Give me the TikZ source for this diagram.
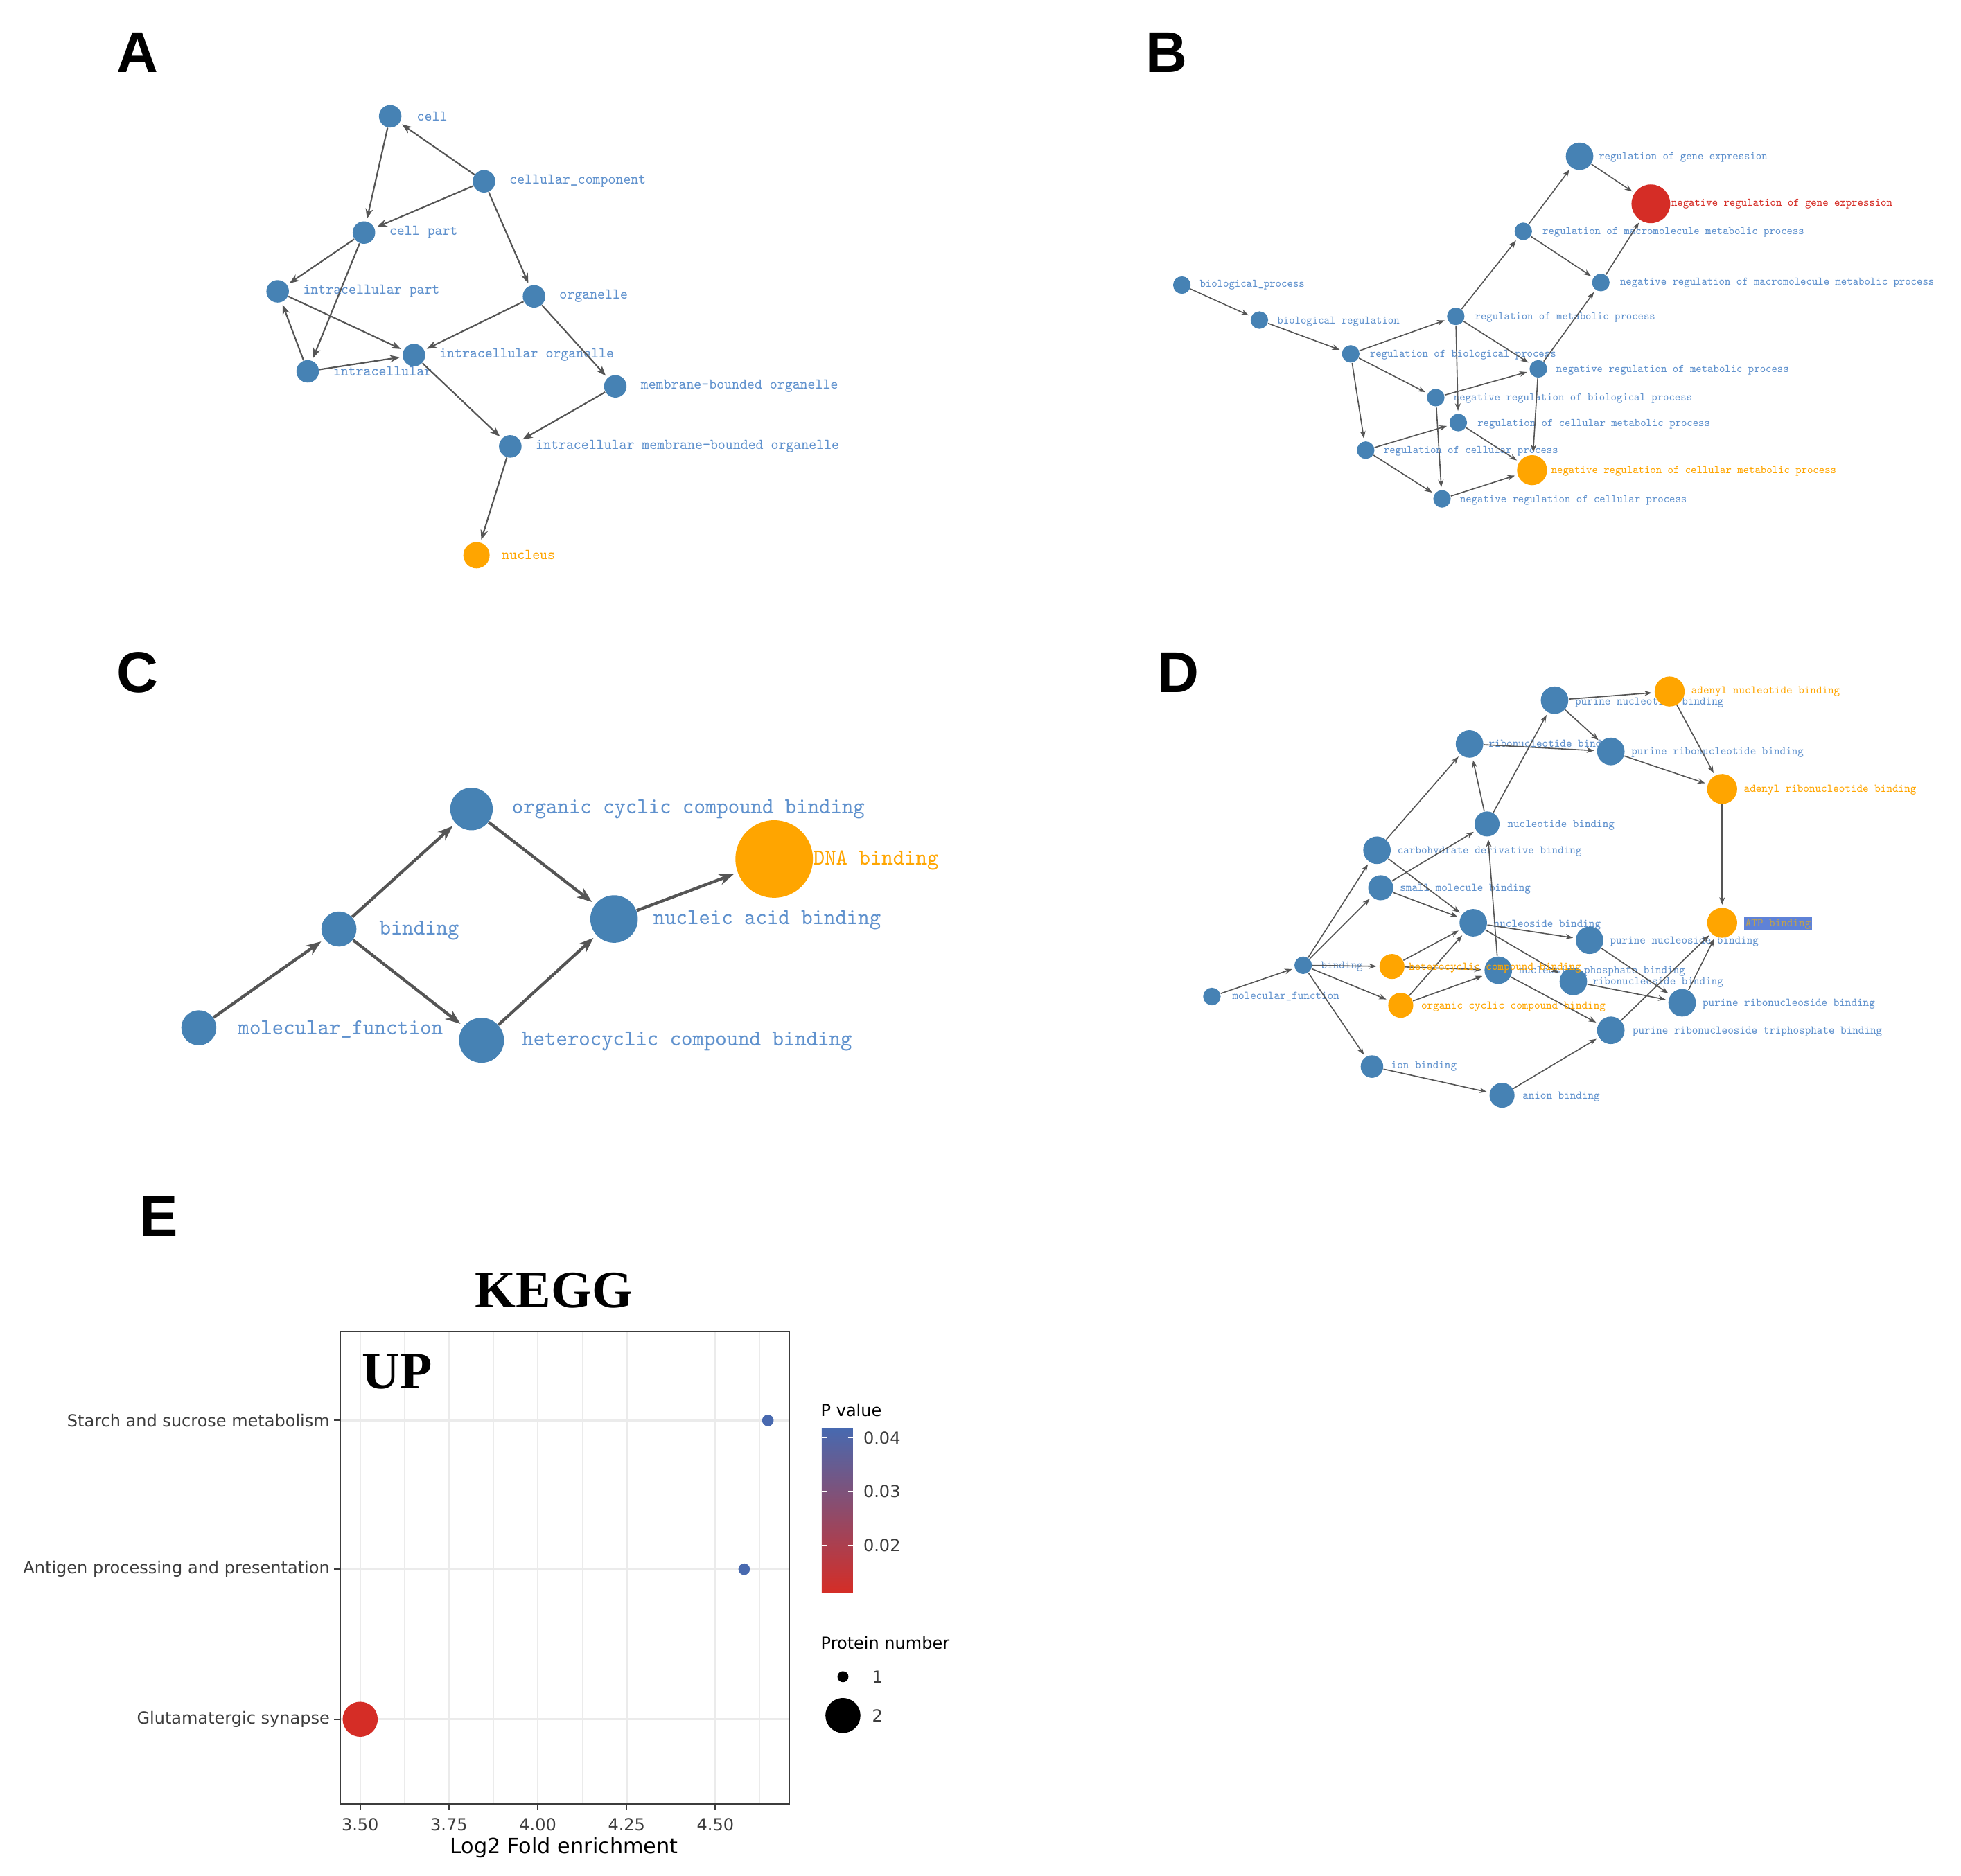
\documentclass[tikz,border=0pt]{standalone}
\usepackage{fontspec}
\usepackage{xcolor}
\usepackage{tikz}
\usetikzlibrary{arrows.meta}
\setmainfont{Liberation Sans}
\newfontfamily\gofont[FakeStretch=0.952]{Latin Modern Mono}
\newfontfamily\plotfont{DejaVu Sans}
\newfontfamily\kgfont{Liberation Serif}
\definecolor{goblue}{RGB}{70,130,180}
\definecolor{golbl}{RGB}{95,145,205}
\definecolor{goorange}{RGB}{255,165,0}
\definecolor{gored}{RGB}{213,45,38}
\definecolor{edgegray}{RGB}{85,85,85}
\definecolor{ptblue}{RGB}{72,105,175}
\definecolor{gridgray}{RGB}{235,235,235}
\definecolor{axgray}{RGB}{60,60,60}
\definecolor{atpfill}{RGB}{95,130,215}
\definecolor{atptext}{RGB}{190,160,80}

\begin{document}
\begin{tikzpicture}[x=0.5pt,y=-0.5pt,
	gn/.style={circle,fill=goblue,inner sep=0pt},
	on/.style={circle,fill=goorange,inner sep=0pt},
	rn/.style={circle,fill=gored,inner sep=0pt},
	panel/.style={font=\fontsize{23}{23}\selectfont\bfseries,inner sep=0pt},
	albl/.style={anchor=west,inner sep=0pt,text=golbl,font=\gofont\fontsize{6}{6}\selectfont},
	blbl/.style={anchor=west,inner sep=0pt,text=golbl,font=\gofont\fontsize{4.6}{4.6}\selectfont},
	clbl/.style={anchor=west,inner sep=0pt,text=golbl,font=\gofont\fontsize{9.1}{9.1}\selectfont},
	dlbl/.style={anchor=west,inner sep=0pt,text=golbl,font=\gofont\fontsize{4.7}{4.7}\selectfont},
	aedge/.style={-{Stealth[length=4pt,width=3pt]},draw=edgegray,line width=0.6pt,shorten >=1pt},
	bedge/.style={-{Stealth[length=3pt,width=2.2pt]},draw=edgegray,line width=0.45pt,shorten >=1pt},
	cedge/.style={-{Stealth[length=6pt,width=4.5pt]},draw=edgegray,line width=1.2pt,shorten >=1.5pt},
	ptxt/.style={inner sep=0pt,text=axgray,font=\plotfont\fontsize{6.65}{7}\selectfont}]
	\useasboundingbox (0,0) rectangle (1568,1500);

	% panel letters
	\node[panel] (pa) at (110,42) {A};
	\node[panel] (pb) at (933,42) {B};
	\node[panel] (pc) at (110,538) {C};
	\node[panel] (pd) at (942,538) {D};
	\node[panel] (pe) at (127,973) {E};

	% A: cellular component
	\node[albl] (l-cell) at (333,93) {cell};
	\node[albl] (l-cc) at (407,145) {cellular\_component};
	\node[albl] (l-cpart) at (311,186) {cell part};
	\node[albl] (l-icpart) at (242,233) {intracellular part};
	\node[albl] (l-org) at (447,237) {organelle};
	\node[albl] (l-icorg) at (351,284) {intracellular organelle};
	\node[albl] (l-ic) at (266,297) {intracellular};
	\node[albl] (l-mbo) at (512,309) {membrane-bounded organelle};
	\node[albl] (l-imbo) at (428,357) {intracellular membrane-bounded organelle};
	\node[albl,text=goorange] (l-nuc) at (401,444) {nucleus};
	\node[gn,minimum size=9pt] (cell) at (312,93) {};
	\node[gn,minimum size=9pt] (cc) at (387,145) {};
	\node[gn,minimum size=9pt] (cpart) at (291,186) {};
	\node[gn,minimum size=9pt] (icpart) at (222,233) {};
	\node[gn,minimum size=9pt] (org) at (427,237) {};
	\node[gn,minimum size=9pt] (icorg) at (331,284) {};
	\node[gn,minimum size=9pt] (ic) at (246,297) {};
	\node[gn,minimum size=9pt] (mbo) at (492,309) {};
	\node[gn,minimum size=9pt] (imbo) at (408,357) {};
	\node[on,minimum size=10.5pt] (nuc) at (381,444) {};
	\draw[aedge] (cc) -- (cell);
	\draw[aedge] (cell) -- (cpart);
	\draw[aedge] (cc) -- (cpart);
	\draw[aedge] (cc) -- (org);
	\draw[aedge] (cpart) -- (icpart);
	\draw[aedge] (cpart) -- (ic);
	\draw[aedge] (ic) -- (icpart);
	\draw[aedge] (icpart) -- (icorg);
	\draw[aedge] (ic) -- (icorg);
	\draw[aedge] (org) -- (icorg);
	\draw[aedge] (org) -- (mbo);
	\draw[aedge] (icorg) -- (imbo);
	\draw[aedge] (mbo) -- (imbo);
	\draw[aedge] (imbo) -- (nuc);

	% B: biological process
	\node[blbl] (l-rge) at (1278,126) {regulation of gene expression};
	\node[blbl,text=gored] (l-nrge) at (1336,163) {negative regulation of gene expression};
	\node[blbl] (l-rmmp) at (1233,186) {regulation of macromolecule metabolic process};
	\node[blbl] (l-nrmmp) at (1295,226) {negative regulation of macromolecule metabolic process};
	\node[blbl] (l-bp) at (959,228) {biological\_process};
	\node[blbl] (l-br) at (1021,257) {biological regulation};
	\node[blbl] (l-rmp) at (1179,254) {regulation of metabolic process};
	\node[blbl] (l-rbp) at (1095,284) {regulation of biological process};
	\node[blbl] (l-nrmp) at (1244,296) {negative regulation of metabolic process};
	\node[blbl] (l-nrbp) at (1162,319) {negative regulation of biological process};
	\node[blbl] (l-rcmp) at (1181,339) {regulation of cellular metabolic process};
	\node[blbl] (l-rcp) at (1106,361) {regulation of cellular process};
	\node[blbl,text=goorange] (l-nrcmp) at (1240,377) {negative regulation of cellular metabolic process};
	\node[blbl] (l-nrcp) at (1167,400) {negative regulation of cellular process};
	\node[gn,minimum size=11pt] (rge) at (1263,125) {};
	\node[rn,minimum size=15.5pt] (nrge) at (1320,163) {};
	\node[gn,minimum size=7pt] (rmmp) at (1218,185) {};
	\node[gn,minimum size=7pt] (nrmmp) at (1280,226) {};
	\node[gn,minimum size=7pt] (bp) at (945,228) {};
	\node[gn,minimum size=7pt] (br) at (1007,256) {};
	\node[gn,minimum size=7pt] (rmp) at (1164,253) {};
	\node[gn,minimum size=7pt] (rbp) at (1080,283) {};
	\node[gn,minimum size=7pt] (nrmp) at (1230,295) {};
	\node[gn,minimum size=7pt] (nrbp) at (1148,318) {};
	\node[gn,minimum size=7pt] (rcmp) at (1166,338) {};
	\node[gn,minimum size=7pt] (rcp) at (1092,360) {};
	\node[on,minimum size=12pt] (nrcmp) at (1225,376) {};
	\node[gn,minimum size=7pt] (nrcp) at (1153,399) {};
	\draw[bedge] (bp) -- (br);
	\draw[bedge] (br) -- (rbp);
	\draw[bedge] (rbp) -- (rmp);
	\draw[bedge] (rbp) -- (nrbp);
	\draw[bedge] (rbp) -- (rcp);
	\draw[bedge] (rmp) -- (rmmp);
	\draw[bedge] (rmp) -- (nrmp);
	\draw[bedge] (rmp) -- (rcmp);
	\draw[bedge] (nrbp) -- (nrmp);
	\draw[bedge] (nrbp) -- (nrcp);
	\draw[bedge] (rcp) -- (rcmp);
	\draw[bedge] (rcp) -- (nrcp);
	\draw[bedge] (rcmp) -- (nrcmp);
	\draw[bedge] (nrcp) -- (nrcmp);
	\draw[bedge] (nrmp) -- (nrcmp);
	\draw[bedge] (nrmp) -- (nrmmp);
	\draw[bedge] (rmmp) -- (nrmmp);
	\draw[bedge] (rmmp) -- (rge);
	\draw[bedge] (rge) -- (nrge);
	\draw[bedge] (nrmmp) -- (nrge);

	% C: molecular function
	\node[clbl] (l-cmf) at (190,823) {molecular\_function};
	\node[clbl] (l-cbd) at (303,744) {binding};
	\node[clbl] (l-cocb) at (409,647) {organic cyclic compound binding};
	\node[clbl] (l-chcb) at (417,833) {heterocyclic compound binding};
	\node[clbl] (l-cnab) at (522,736) {nucleic acid binding};
	\node[gn,minimum size=14pt] (cmf) at (159,822) {};
	\node[gn,minimum size=14pt] (cbd) at (271,743) {};
	\node[gn,minimum size=17pt] (cocb) at (377,647) {};
	\node[gn,minimum size=18pt] (chcb) at (385,832) {};
	\node[gn,minimum size=19pt] (cnab) at (491,735) {};
	\node[on,minimum size=31pt] (cdna) at (619,687) {};
	\node[clbl,text=goorange] (l-cdna) at (650,688) {DNA binding};
	\draw[cedge] (cmf) -- (cbd);
	\draw[cedge] (cbd) -- (cocb);
	\draw[cedge] (cbd) -- (chcb);
	\draw[cedge] (cocb) -- (cnab);
	\draw[cedge] (chcb) -- (cnab);
	\draw[cedge] (cnab) -- (cdna);

	% D: molecular function, detailed
	\node[dlbl] (l-pnb) at (1259,562) {purine nucleotide binding};
	\node[dlbl,text=goorange] (l-anb) at (1352,553) {adenyl nucleotide binding};
	\node[dlbl] (l-rnb) at (1190,596) {ribonucleotide binding};
	\node[dlbl] (l-prnb) at (1304,602) {purine ribonucleotide binding};
	\node[dlbl,text=goorange] (l-arnb) at (1394,632) {adenyl ribonucleotide binding};
	\node[dlbl] (l-ntb) at (1205,660) {nucleotide binding};
	\node[dlbl] (l-cdb) at (1117,681) {carbohydrate derivative binding};
	\node[dlbl] (l-smb) at (1119,711) {small molecule binding};
	\node[dlbl] (l-nsb) at (1194,740) {nucleoside binding};
	\node[dlbl] (l-pnsb) at (1287,753) {purine nucleoside binding};
	\node[dlbl] (l-mf) at (985,797) {molecular\_function};
	\node[dlbl] (l-bd) at (1056,773) {binding};
	\node[dlbl] (l-npb) at (1214,777) {nucleoside phosphate binding};
	\node[dlbl] (l-rnsb) at (1273,786) {ribonucleoside binding};
	\node[dlbl] (l-prnsb) at (1361,803) {purine ribonucleoside binding};
	\node[dlbl] (l-prntb) at (1305,825) {purine ribonucleoside triphosphate binding};
	\node[dlbl] (l-ion) at (1112,853) {ion binding};
	\node[dlbl] (l-anion) at (1217,877) {anion binding};
	\node[gn,minimum size=11pt] (pnb) at (1243,560) {};
	\node[on,minimum size=12pt] (anb) at (1335,553) {};
	\node[gn,minimum size=11pt] (rnb) at (1175,595) {};
	\node[gn,minimum size=11pt] (prnb) at (1288,601) {};
	\node[on,minimum size=12pt] (arnb) at (1377,631) {};
	\node[gn,minimum size=10pt] (ntb) at (1189,659) {};
	\node[gn,minimum size=11pt] (cdb) at (1101,680) {};
	\node[gn,minimum size=10pt] (smb) at (1104,710) {};
	\node[on,minimum size=12pt] (atp) at (1377,738) {};
	\node[gn,minimum size=11pt] (nsb) at (1178,738) {};
	\node[gn,minimum size=11pt] (pnsb) at (1271,752) {};
	\node[gn,minimum size=7pt] (mf) at (969,797) {};
	\node[gn,minimum size=7pt] (bd) at (1042,772) {};
	\node[on,minimum size=10pt] (hcb) at (1113,773) {};
	\node[gn,minimum size=11pt] (npb) at (1198,776) {};
	\node[gn,minimum size=11pt] (rnsb) at (1258,785) {};
	\node[gn,minimum size=11pt] (prnsb) at (1345,802) {};
	\node[on,minimum size=10pt] (ocb) at (1120,804) {};
	\node[gn,minimum size=11pt] (prntb) at (1288,824) {};
	\node[gn,minimum size=9pt] (ion) at (1097,853) {};
	\node[gn,minimum size=10pt] (anion) at (1201,876) {};
	\draw[bedge] (mf) -- (bd);
	\draw[bedge] (bd) -- (cdb);
	\draw[bedge] (bd) -- (smb);
	\draw[bedge] (bd) -- (hcb);
	\draw[bedge] (bd) -- (ocb);
	\draw[bedge] (bd) -- (ion);
	\draw[bedge] (ion) -- (anion);
	\draw[bedge] (anion) -- (prntb);
	\draw[bedge] (smb) -- (nsb);
	\draw[bedge] (smb) -- (ntb);
	\draw[bedge] (cdb) -- (rnb);
	\draw[bedge] (cdb) -- (nsb);
	\draw[bedge] (ntb) -- (rnb);
	\draw[bedge] (ntb) -- (pnb);
	\draw[bedge] (rnb) -- (prnb);
	\draw[bedge] (pnb) -- (anb);
	\draw[bedge] (pnb) -- (prnb);
	\draw[bedge] (anb) -- (arnb);
	\draw[bedge] (prnb) -- (arnb);
	\draw[bedge] (arnb) -- (atp);
	\draw[bedge] (npb) -- (ntb);
	\draw[bedge] (hcb) -- (nsb);
	\draw[bedge] (hcb) -- (npb);
	\draw[bedge] (ocb) -- (nsb);
	\draw[bedge] (ocb) -- (npb);
	\draw[bedge] (npb) -- (prntb);
	\draw[bedge] (nsb) -- (pnsb);
	\draw[bedge] (nsb) -- (rnsb);
	\draw[bedge] (pnsb) -- (prnsb);
	\draw[bedge] (rnsb) -- (prnsb);
	\draw[bedge] (prntb) -- (atp);
	\draw[bedge] (prnsb) -- (atp);
	\node[dlbl,text=goorange] (l-hcb) at (1126,774) {heterocyclic compound binding};
	\node[dlbl,text=goorange] (l-ocb) at (1136,805) {organic cyclic compound binding};
	\node[dlbl,fill=atpfill,text=atptext,inner sep=0.6pt] (l-atp) at (1394,739) {ATP binding};

	% E: KEGG bubble plot
	\node[inner sep=0pt,font=\kgfont\fontsize{21}{21}\selectfont\bfseries] (kegg) at (443,1032) {KEGG};
	\foreach \gx in {323.5,394.5,465.5,536.5,607.5}
		\draw[gridgray,line width=0.35pt] (\gx,1065) -- (\gx,1443);
	\foreach \gx in {288,359,430,501,572}
		\draw[gridgray,line width=0.7pt] (\gx,1065) -- (\gx,1443);
	\foreach \gy in {1136,1255,1375}
		\draw[gridgray,line width=0.7pt] (272,\gy) -- (631,\gy);
	\draw[axgray,line width=0.7pt] (272,1065) rectangle (631,1443);
	\node[anchor=west,inner sep=0pt,font=\kgfont\fontsize{21}{21}\selectfont\bfseries] (up) at (289,1097) {UP};
	\fill[ptblue] (614,1136) circle (2.3pt);
	\fill[ptblue] (595,1255) circle (2.3pt);
	\fill[gored] (288,1375) circle (7pt);
	% axes
	\foreach \gy in {1136,1255,1375}
		\draw[axgray,line width=0.5pt] (267,\gy) -- (272,\gy);
	\foreach \gx in {288,359,430,501,572}
		\draw[axgray,line width=0.5pt] (\gx,1443) -- (\gx,1448);
	\node[ptxt,anchor=east] (y-ssm) at (264,1136) {Starch and sucrose metabolism};
	\node[ptxt,anchor=east] (y-app) at (264,1255) {Antigen processing and presentation};
	\node[ptxt,anchor=east] (y-gs) at (264,1375) {Glutamatergic synapse};
	\node[ptxt] (x-350) at (288,1459) {3.50};
	\node[ptxt] (x-375) at (359,1459) {3.75};
	\node[ptxt] (x-400) at (430,1459) {4.00};
	\node[ptxt] (x-425) at (501,1459) {4.25};
	\node[ptxt] (x-450) at (572,1459) {4.50};
	\node[ptxt,text=black,font=\plotfont\fontsize{8.4}{9}\selectfont] (xtitle) at (451,1478) {Log2 Fold enrichment};
	% legends
	\node[ptxt,anchor=west,text=black] (pv) at (656,1128) {P value};
	\shade[top color=ptblue,bottom color=gored] (657,1143) rectangle (682,1274);
	\foreach \ly in {1150,1193,1236} {
		\draw[white,line width=0.4pt] (657,\ly) -- (661,\ly);
		\draw[white,line width=0.4pt] (678,\ly) -- (682,\ly);
	}
	\node[ptxt,anchor=west] (pv4) at (690,1150) {0.04};
	\node[ptxt,anchor=west] (pv3) at (690,1193) {0.03};
	\node[ptxt,anchor=west] (pv2) at (690,1236) {0.02};
	\node[ptxt,anchor=west,text=black] (pn) at (656,1314) {Protein number};
	\fill[black] (674,1341) circle (2.2pt);
	\fill[black] (674,1372) circle (7pt);
	\node[ptxt,anchor=west] (pn1) at (697,1341) {1};
	\node[ptxt,anchor=west] (pn2) at (697,1372) {2};
\end{tikzpicture}
\end{document}
